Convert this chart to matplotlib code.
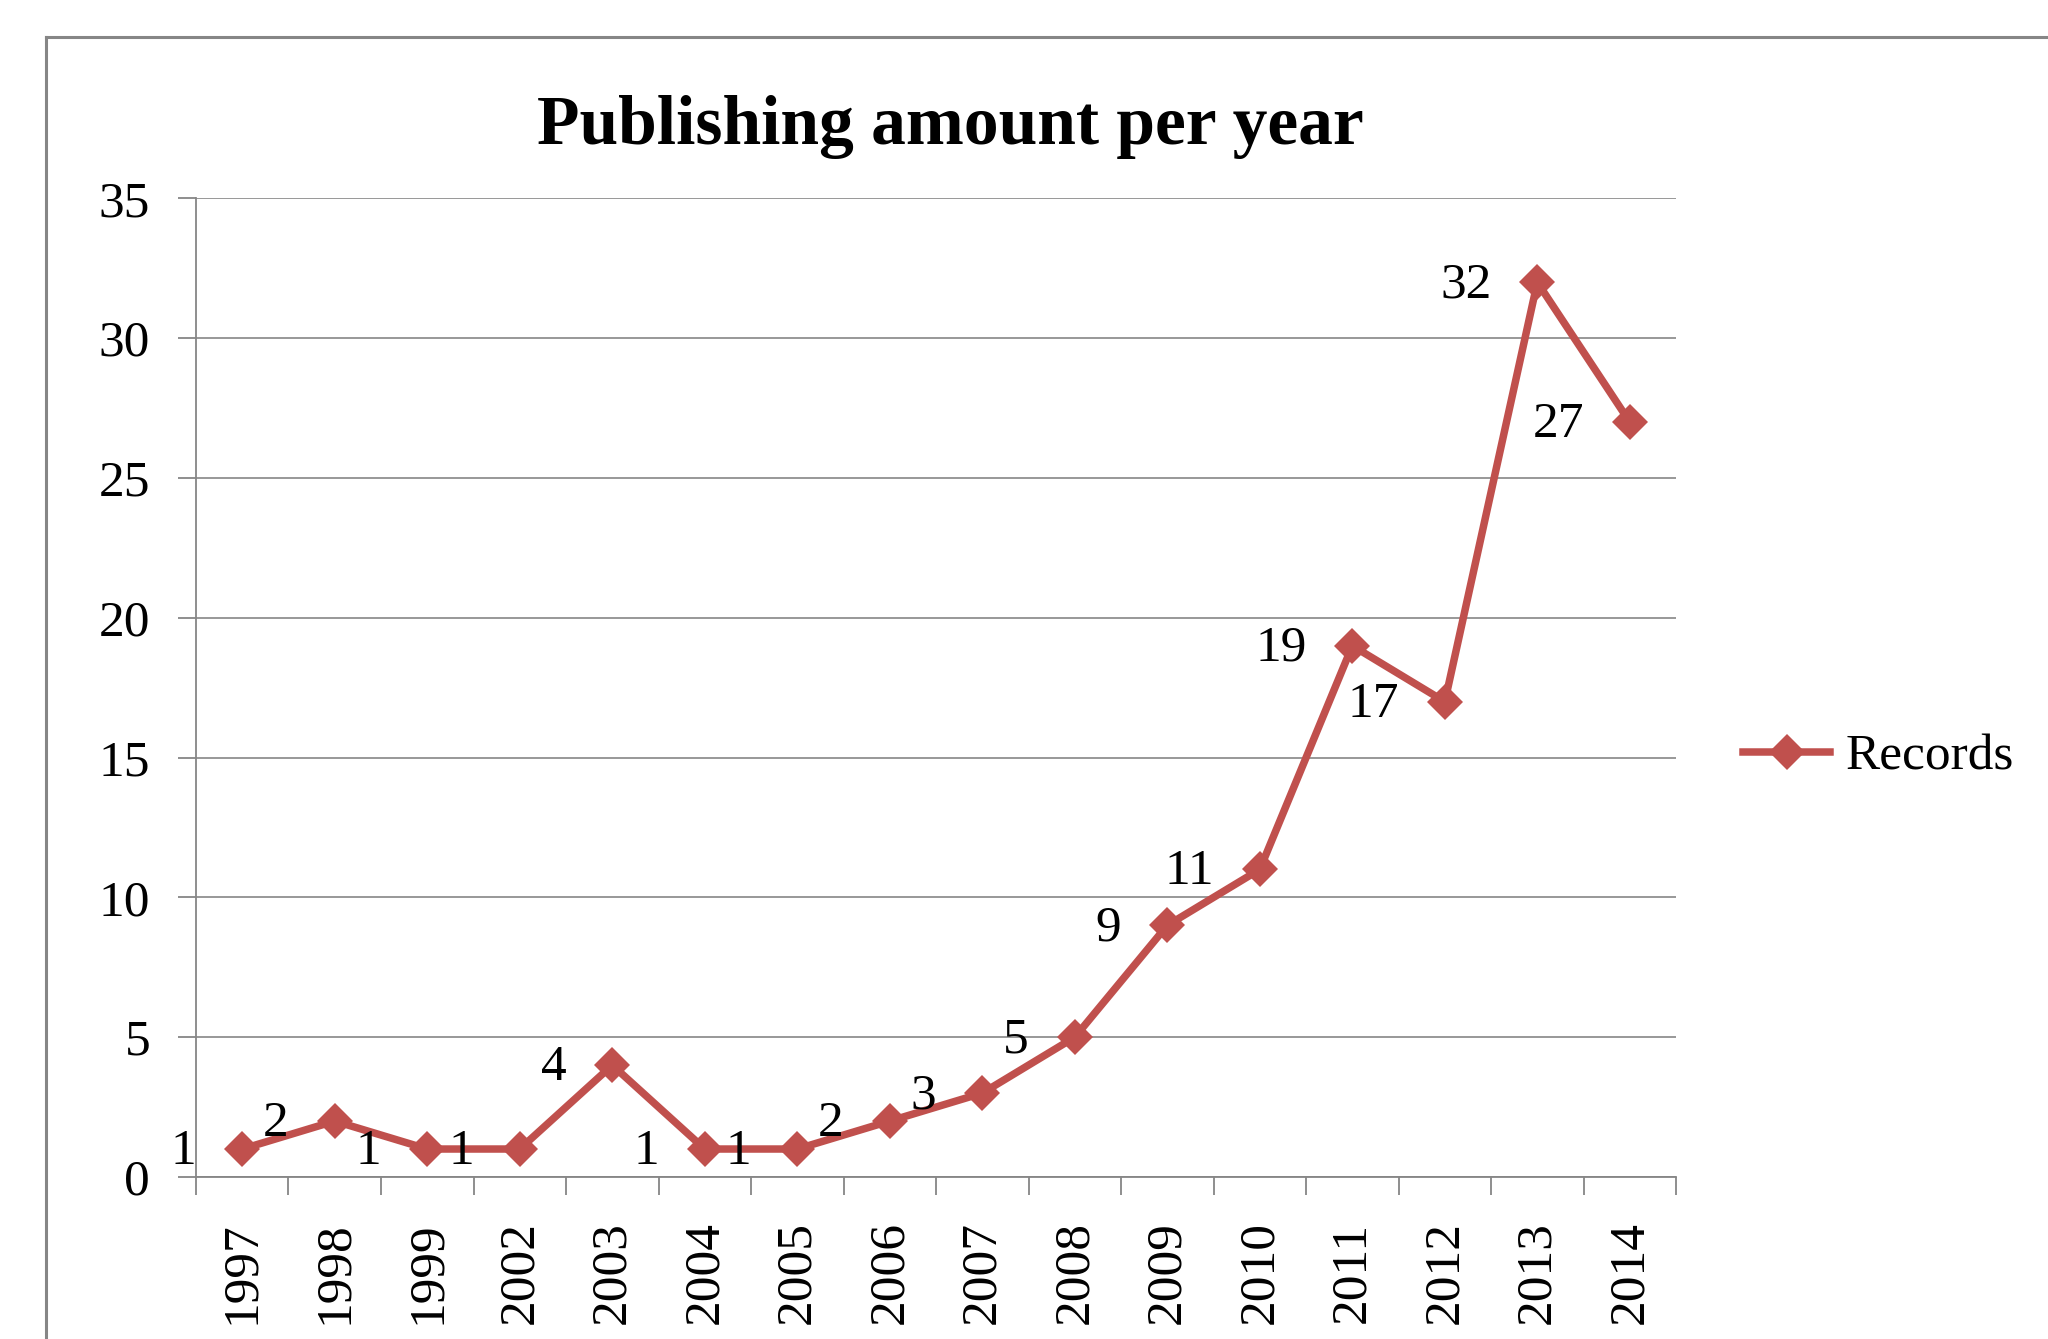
import matplotlib
matplotlib.use('Agg')
from matplotlib import pyplot as plt
from matplotlib.lines import Line2D

years = ['1997', '1998', '1999', '2002', '2003', '2004', '2005', '2006',
         '2007', '2008', '2009', '2010', '2011', '2012', '2013', '2014']
records = [1, 2, 1, 1, 4, 1, 1, 2, 3, 5, 9, 11, 19, 17, 32, 27]
y_ticks = [0, 5, 10, 15, 20, 25, 30, 35]

red = '#C0504D'
grey = '#868686'
serif = ['Liberation Serif', 'DejaVu Serif']

plt.rcParams['font.family'] = serif
fig = plt.figure(figsize=(20.48, 13.39), dpi=100)
ax = fig.add_axes([0.0957, 0.121, 0.7227, 0.7308])

# outer chart frame, cut off at the right and bottom like the screenshot
fig.add_artist(Line2D([0.0225, 1.0], [0.9727, 0.9727], transform=fig.transFigure,
                      color=grey, lw=2.2))
fig.add_artist(Line2D([0.0225, 0.0225], [0.9727, 0.0], transform=fig.transFigure,
                      color=grey, lw=2.2))

x = list(range(len(years)))
ax.plot(x, records, color=red, lw=5.4, marker='D', markersize=18,
        markeredgewidth=0, label='Records')

for xi, v in zip(x, records):
    ax.annotate(str(v), (xi, v), xytext=(-33, -2), textcoords='offset points',
                ha='right', va='center', fontsize=37)

ax.set_xlim(-0.5, len(years) - 0.5)
ax.set_ylim(0, 35)
ax.set_yticks(y_ticks)
ax.set_yticklabels([str(t) for t in y_ticks], fontsize=37)
ax.yaxis.grid(True, color=grey, lw=1.2)
ax.set_axisbelow(True)

# category axis: ticks on boundaries, labels on centres
ax.set_xticks([i - 0.5 for i in range(len(years) + 1)])
ax.set_xticklabels([])
ax.set_xticks(x, minor=True)
ax.set_xticklabels(years, minor=True, rotation=90, fontsize=37)
ax.tick_params(axis='x', which='minor', length=0, pad=32)
ax.tick_params(axis='x', which='major', length=13, width=1.3, color=grey, direction='out')
ax.tick_params(axis='y', length=13, width=1.3, color=grey, direction='out', pad=20)

for side in ['top', 'right']:
    ax.spines[side].set_visible(False)
for side in ['left', 'bottom']:
    ax.spines[side].set_color(grey)
    ax.spines[side].set_linewidth(1.3)

fig.text(0.464, 0.905, 'Publishing amount per year', ha='center', va='center',
         fontsize=50, fontweight='bold')

fig.legend(loc='center left', bbox_to_anchor=(0.851, 0.4346), frameon=False,
           fontsize=37, handlelength=1.7, handletextpad=0.3,
           borderpad=0, borderaxespad=0)

plt.savefig('out.png', dpi=100)
